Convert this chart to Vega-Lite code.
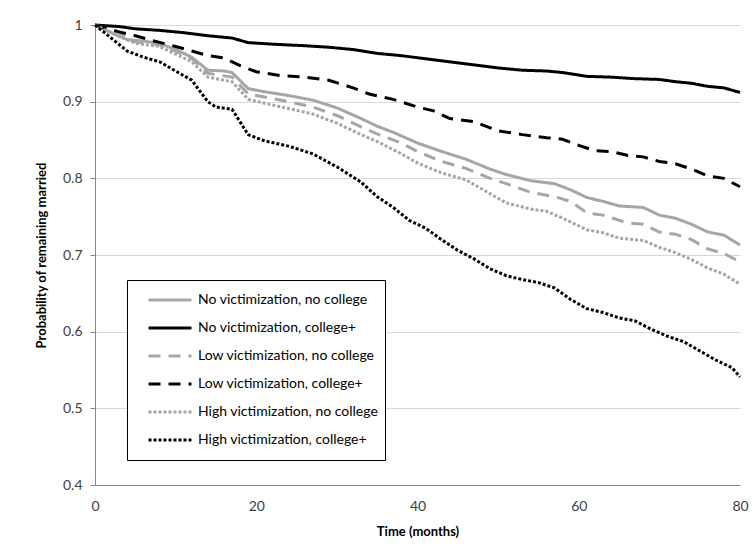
{
  "$schema": "https://vega.github.io/schema/vega-lite/v6.json",
  "width": 645,
  "height": 460,
  "autosize": "none",
  "padding": {"left": 95, "top": 25, "right": 15, "bottom": 75},
  "background": "white",
  "config": {
    "view": {"stroke": null},
    "font": "Lato",
    "axis": {"labelFont": "Lato", "titleFont": "Lato", "labelColor": "#404040", "titleColor": "#000000"}
  },
  "data": {"values": [
    {"series":"No victimization, no college","t":0,"p":1},{"series":"No victimization, no college","t":2,"p":0.99},{"series":"No victimization, no college","t":4,"p":0.981},{"series":"No victimization, no college","t":6,"p":0.979},{"series":"No victimization, no college","t":8,"p":0.976},{"series":"No victimization, no college","t":10,"p":0.968},{"series":"No victimization, no college","t":12,"p":0.958},{"series":"No victimization, no college","t":14,"p":0.941},{"series":"No victimization, no college","t":16,"p":0.94},{"series":"No victimization, no college","t":17,"p":0.938},{"series":"No victimization, no college","t":19,"p":0.917},{"series":"No victimization, no college","t":21,"p":0.913},{"series":"No victimization, no college","t":24,"p":0.908},{"series":"No victimization, no college","t":27,"p":0.902},{"series":"No victimization, no college","t":30,"p":0.892},{"series":"No victimization, no college","t":33,"p":0.878},{"series":"No victimization, no college","t":35,"p":0.868},{"series":"No victimization, no college","t":37,"p":0.86},{"series":"No victimization, no college","t":40,"p":0.846},{"series":"No victimization, no college","t":43,"p":0.835},{"series":"No victimization, no college","t":46,"p":0.825},{"series":"No victimization, no college","t":49,"p":0.812},{"series":"No victimization, no college","t":51,"p":0.805},{"series":"No victimization, no college","t":54,"p":0.797},{"series":"No victimization, no college","t":57,"p":0.793},{"series":"No victimization, no college","t":59,"p":0.785},{"series":"No victimization, no college","t":61,"p":0.775},{"series":"No victimization, no college","t":63,"p":0.77},{"series":"No victimization, no college","t":65,"p":0.764},{"series":"No victimization, no college","t":68,"p":0.762},{"series":"No victimization, no college","t":70,"p":0.752},{"series":"No victimization, no college","t":72,"p":0.748},{"series":"No victimization, no college","t":74,"p":0.74},{"series":"No victimization, no college","t":76,"p":0.73},{"series":"No victimization, no college","t":78,"p":0.726},{"series":"No victimization, no college","t":80,"p":0.713},

    {"series":"No victimization, college+","t":0,"p":1},{"series":"No victimization, college+","t":3,"p":0.998},{"series":"No victimization, college+","t":5,"p":0.995},{"series":"No victimization, college+","t":8,"p":0.993},{"series":"No victimization, college+","t":11,"p":0.99},{"series":"No victimization, college+","t":14,"p":0.986},{"series":"No victimization, college+","t":17,"p":0.983},{"series":"No victimization, college+","t":19,"p":0.977},{"series":"No victimization, college+","t":22,"p":0.975},{"series":"No victimization, college+","t":26,"p":0.973},{"series":"No victimization, college+","t":29,"p":0.971},{"series":"No victimization, college+","t":32,"p":0.968},{"series":"No victimization, college+","t":35,"p":0.963},{"series":"No victimization, college+","t":38,"p":0.96},{"series":"No victimization, college+","t":41,"p":0.956},{"series":"No victimization, college+","t":44,"p":0.952},{"series":"No victimization, college+","t":47,"p":0.948},{"series":"No victimization, college+","t":50,"p":0.944},{"series":"No victimization, college+","t":53,"p":0.941},{"series":"No victimization, college+","t":56,"p":0.94},{"series":"No victimization, college+","t":58,"p":0.938},{"series":"No victimization, college+","t":61,"p":0.933},{"series":"No victimization, college+","t":64,"p":0.932},{"series":"No victimization, college+","t":67,"p":0.93},{"series":"No victimization, college+","t":70,"p":0.929},{"series":"No victimization, college+","t":72,"p":0.926},{"series":"No victimization, college+","t":74,"p":0.924},{"series":"No victimization, college+","t":76,"p":0.92},{"series":"No victimization, college+","t":78,"p":0.918},{"series":"No victimization, college+","t":80,"p":0.912},

    {"series":"Low victimization, no college","t":0,"p":1},{"series":"Low victimization, no college","t":3,"p":0.99},{"series":"Low victimization, no college","t":5,"p":0.978},{"series":"Low victimization, no college","t":8,"p":0.974},{"series":"Low victimization, no college","t":10,"p":0.966},{"series":"Low victimization, no college","t":12,"p":0.956},{"series":"Low victimization, no college","t":14,"p":0.937},{"series":"Low victimization, no college","t":17,"p":0.932},{"series":"Low victimization, no college","t":19,"p":0.91},{"series":"Low victimization, no college","t":21,"p":0.906},{"series":"Low victimization, no college","t":24,"p":0.9},{"series":"Low victimization, no college","t":27,"p":0.893},{"series":"Low victimization, no college","t":30,"p":0.882},{"series":"Low victimization, no college","t":33,"p":0.867},{"series":"Low victimization, no college","t":35,"p":0.858},{"series":"Low victimization, no college","t":38,"p":0.846},{"series":"Low victimization, no college","t":40,"p":0.835},{"series":"Low victimization, no college","t":43,"p":0.822},{"series":"Low victimization, no college","t":46,"p":0.813},{"series":"Low victimization, no college","t":49,"p":0.8},{"series":"Low victimization, no college","t":51,"p":0.793},{"series":"Low victimization, no college","t":54,"p":0.782},{"series":"Low victimization, no college","t":57,"p":0.776},{"series":"Low victimization, no college","t":59,"p":0.77},{"series":"Low victimization, no college","t":61,"p":0.755},{"series":"Low victimization, no college","t":63,"p":0.752},{"series":"Low victimization, no college","t":66,"p":0.742},{"series":"Low victimization, no college","t":68,"p":0.74},{"series":"Low victimization, no college","t":70,"p":0.73},{"series":"Low victimization, no college","t":72,"p":0.727},{"series":"Low victimization, no college","t":74,"p":0.72},{"series":"Low victimization, no college","t":76,"p":0.708},{"series":"Low victimization, no college","t":78,"p":0.702},{"series":"Low victimization, no college","t":80,"p":0.691},

    {"series":"Low victimization, college+","t":0,"p":1},{"series":"Low victimization, college+","t":3,"p":0.991},{"series":"Low victimization, college+","t":5,"p":0.986},{"series":"Low victimization, college+","t":7,"p":0.98},{"series":"Low victimization, college+","t":10,"p":0.972},{"series":"Low victimization, college+","t":12,"p":0.966},{"series":"Low victimization, college+","t":14,"p":0.96},{"series":"Low victimization, college+","t":16,"p":0.957},{"series":"Low victimization, college+","t":18,"p":0.947},{"series":"Low victimization, college+","t":20,"p":0.939},{"series":"Low victimization, college+","t":23,"p":0.934},{"series":"Low victimization, college+","t":26,"p":0.932},{"series":"Low victimization, college+","t":29,"p":0.928},{"series":"Low victimization, college+","t":32,"p":0.918},{"series":"Low victimization, college+","t":34,"p":0.91},{"series":"Low victimization, college+","t":37,"p":0.903},{"series":"Low victimization, college+","t":40,"p":0.893},{"series":"Low victimization, college+","t":42,"p":0.888},{"series":"Low victimization, college+","t":44,"p":0.878},{"series":"Low victimization, college+","t":47,"p":0.874},{"series":"Low victimization, college+","t":50,"p":0.862},{"series":"Low victimization, college+","t":53,"p":0.857},{"series":"Low victimization, college+","t":56,"p":0.853},{"series":"Low victimization, college+","t":58,"p":0.851},{"series":"Low victimization, college+","t":60,"p":0.843},{"series":"Low victimization, college+","t":62,"p":0.836},{"series":"Low victimization, college+","t":64,"p":0.835},{"series":"Low victimization, college+","t":66,"p":0.83},{"series":"Low victimization, college+","t":68,"p":0.828},{"series":"Low victimization, college+","t":70,"p":0.822},{"series":"Low victimization, college+","t":72,"p":0.819},{"series":"Low victimization, college+","t":74,"p":0.812},{"series":"Low victimization, college+","t":76,"p":0.803},{"series":"Low victimization, college+","t":78,"p":0.8},{"series":"Low victimization, college+","t":80,"p":0.789},

    {"series":"High victimization, no college","t":0,"p":1},{"series":"High victimization, no college","t":3,"p":0.985},{"series":"High victimization, no college","t":5,"p":0.976},{"series":"High victimization, no college","t":8,"p":0.972},{"series":"High victimization, no college","t":10,"p":0.962},{"series":"High victimization, no college","t":12,"p":0.952},{"series":"High victimization, no college","t":14,"p":0.932},{"series":"High victimization, no college","t":17,"p":0.926},{"series":"High victimization, no college","t":19,"p":0.903},{"series":"High victimization, no college","t":21,"p":0.898},{"series":"High victimization, no college","t":24,"p":0.891},{"series":"High victimization, no college","t":27,"p":0.884},{"series":"High victimization, no college","t":30,"p":0.872},{"series":"High victimization, no college","t":33,"p":0.857},{"series":"High victimization, no college","t":35,"p":0.848},{"series":"High victimization, no college","t":38,"p":0.832},{"series":"High victimization, no college","t":40,"p":0.82},{"series":"High victimization, no college","t":43,"p":0.807},{"series":"High victimization, no college","t":46,"p":0.798},{"series":"High victimization, no college","t":49,"p":0.78},{"series":"High victimization, no college","t":51,"p":0.768},{"series":"High victimization, no college","t":54,"p":0.76},{"series":"High victimization, no college","t":56,"p":0.757},{"series":"High victimization, no college","t":58,"p":0.748},{"series":"High victimization, no college","t":61,"p":0.733},{"series":"High victimization, no college","t":63,"p":0.729},{"series":"High victimization, no college","t":65,"p":0.722},{"series":"High victimization, no college","t":68,"p":0.719},{"series":"High victimization, no college","t":70,"p":0.71},{"series":"High victimization, no college","t":72,"p":0.703},{"series":"High victimization, no college","t":74,"p":0.694},{"series":"High victimization, no college","t":76,"p":0.683},{"series":"High victimization, no college","t":78,"p":0.675},{"series":"High victimization, no college","t":80,"p":0.662},

    {"series":"High victimization, college+","t":0,"p":1},{"series":"High victimization, college+","t":2,"p":0.983},{"series":"High victimization, college+","t":4,"p":0.966},{"series":"High victimization, college+","t":6,"p":0.958},{"series":"High victimization, college+","t":8,"p":0.952},{"series":"High victimization, college+","t":10,"p":0.94},{"series":"High victimization, college+","t":12,"p":0.928},{"series":"High victimization, college+","t":14,"p":0.9},{"series":"High victimization, college+","t":15,"p":0.893},{"series":"High victimization, college+","t":17,"p":0.89},{"series":"High victimization, college+","t":19,"p":0.857},{"series":"High victimization, college+","t":21,"p":0.849},{"series":"High victimization, college+","t":24,"p":0.842},{"series":"High victimization, college+","t":27,"p":0.832},{"series":"High victimization, college+","t":30,"p":0.815},{"series":"High victimization, college+","t":33,"p":0.795},{"series":"High victimization, college+","t":35,"p":0.776},{"series":"High victimization, college+","t":37,"p":0.762},{"series":"High victimization, college+","t":39,"p":0.745},{"series":"High victimization, college+","t":41,"p":0.735},{"series":"High victimization, college+","t":43,"p":0.72},{"series":"High victimization, college+","t":45,"p":0.706},{"series":"High victimization, college+","t":47,"p":0.695},{"series":"High victimization, college+","t":49,"p":0.682},{"series":"High victimization, college+","t":51,"p":0.673},{"series":"High victimization, college+","t":53,"p":0.668},{"series":"High victimization, college+","t":55,"p":0.664},{"series":"High victimization, college+","t":57,"p":0.657},{"series":"High victimization, college+","t":59,"p":0.642},{"series":"High victimization, college+","t":61,"p":0.63},{"series":"High victimization, college+","t":63,"p":0.625},{"series":"High victimization, college+","t":65,"p":0.618},{"series":"High victimization, college+","t":67,"p":0.614},{"series":"High victimization, college+","t":69,"p":0.603},{"series":"High victimization, college+","t":71,"p":0.594},{"series":"High victimization, college+","t":73,"p":0.587},{"series":"High victimization, college+","t":75,"p":0.575},{"series":"High victimization, college+","t":77,"p":0.563},{"series":"High victimization, college+","t":79,"p":0.553},{"series":"High victimization, college+","t":80,"p":0.541}
  ]},
  "mark": {"type": "line", "strokeWidth": 3, "strokeCap": "butt", "interpolate": "linear"},
  "encoding": {
    "x": {
      "field": "t", "type": "quantitative",
      "scale": {"domain": [0, 80], "nice": false},
      "axis": {
        "title": "Time (months)", "values": [0, 20, 40, 60, 80],
        "grid": false, "ticks": false, "domainColor": "#868686",
        "labelOverlap": false, "labelFlush": false,
        "labelFontSize": 14, "labelPadding": 14,
        "titleFontSize": 13, "titleFontWeight": "bold", "titlePadding": 12
      }
    },
    "y": {
      "field": "p", "type": "quantitative",
      "scale": {"domain": [0.4, 1], "nice": false, "zero": false},
      "axis": {
        "title": "Probability of remaining married", "values": [0.4, 0.5, 0.6, 0.7, 0.8, 0.9, 1],
        "format": "~g", "grid": true, "gridColor": "#d9d9d9",
        "labelOverlap": false, "labelFlush": false,
        "tickSize": 5, "tickColor": "#868686", "domainColor": "#868686",
        "labelFontSize": 14, "labelPadding": 8,
        "titleFontSize": 13, "titleFontWeight": "bold", "titlePadding": 14
      }
    },
    "color": {
      "field": "series", "type": "nominal",
      "scale": {
        "domain": ["No victimization, no college", "No victimization, college+", "Low victimization, no college", "Low victimization, college+", "High victimization, no college", "High victimization, college+"],
        "range": ["#a6a6a6", "#000000", "#a6a6a6", "#000000", "#a6a6a6", "#000000"]
      },
      "legend": {
        "title": null, "orient": "none", "legendX": 32, "legendY": 255,
        "symbolType": "stroke", "symbolSize": 1849, "symbolStrokeWidth": 3,
        "symbolOffset": 14, "clipHeight": 28,
        "labelFontSize": 14, "labelColor": "#000000", "labelFont": "Lato", "labelLimit": 400,
        "strokeColor": "#000000", "fillColor": "white",
        "padding": 6, "rowPadding": 0, "labelOffset": 5
      }
    },
    "strokeDash": {
      "field": "series", "type": "nominal",
      "scale": {
        "domain": ["No victimization, no college", "No victimization, college+", "Low victimization, no college", "Low victimization, college+", "High victimization, no college", "High victimization, college+"],
        "range": [[1, 0], [1, 0], [12, 8], [12, 8], [3, 2], [3, 2]]
      }
    }
  }
}
